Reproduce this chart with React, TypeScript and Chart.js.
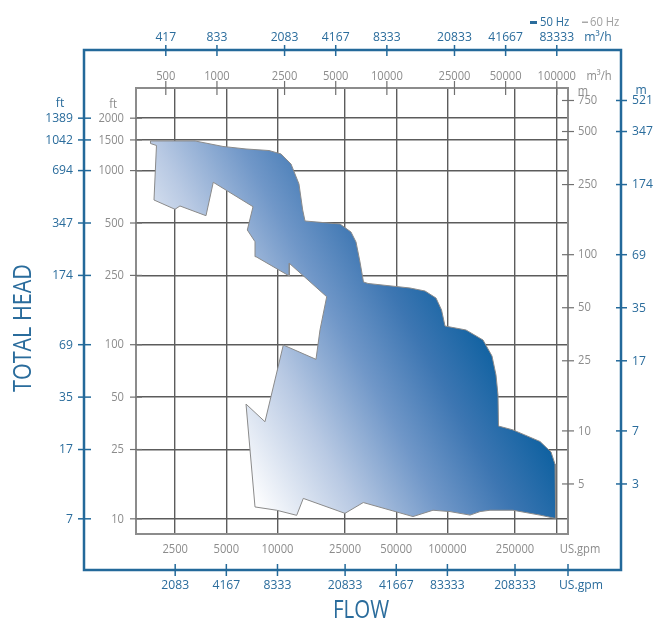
import React, { useEffect, useRef } from 'react';
import { Chart, registerables } from 'chart.js';

Chart.register(...registerables);

// Operating range envelope (outline), flow in US.gpm, head in ft
const ENVELOPE_FLOW_GPM = [
  1789, 3269, 4778, 6527, 8912, 10490, 12010, 13380, 14070, 14520,
  23330, 27080, 28980, 30590, 32070, 34090, 60240, 73840, 85690, 92360,
  96800, 128650, 162030, 183000, 193200, 198510, 199870, 243270, 350850, 407160,
  429820, 433910, 350850, 243270, 178110, 155580, 135900, 103590, 82270, 62740,
  31990, 24960, 14190, 12970, 9892, 7374, 6527, 8441, 10820, 16850,
  17790, 19480, 11735, 11735, 7474, 7374, 6643, 7177, 4189, 3795,
  2667, 2493, 1876, 1940, 1789, 1789,
];
const ENVELOPE_HEAD_FT = [
  1480, 1480, 1376, 1331, 1304, 1246, 1091, 837.5, 593.9, 513.5,
  493.5, 443.9, 388.9, 298.6, 229.2, 224.7, 211.7, 203.4, 185.4, 158.3,
  128.0, 121.5, 106.4, 86.1, 67.0, 51.4, 34.1, 32.4, 27.8, 24.2,
  20.6, 10.04, 10.5, 11.2, 11.2, 11.0, 10.5, 11.0, 11.2, 10.3,
  12.4, 10.75, 13.1, 10.47, 11.2, 11.7, 45.6, 36.1, 99.6, 82.4,
  121.5, 188.6, 293.5, 248.1, 320.2, 390.5, 455.8, 620.4, 856.7, 550.7,
  626.2, 599.4, 677.8, 1394, 1431, 1480,
];

// Axis ticks
const GPM_PER_M3H = 4.403;
const GRID_GPM = [2500, 5000, 10000, 25000, 50000, 100000, 250000];
const GRID_EXTRA_M3H = [100000];
const GRID_FT = [2000, 1500, 1000, 500, 250, 100, 50, 25, 10];

const TOP_M3H_60 = [500, 1000, 2500, 5000, 10000, 25000, 50000, 100000];
const TOP_M3H_50 = ['417', '833', '2083', '4167', '8333', '20833', '41667', '83333'];
const BOTTOM_GPM_60 = ['2500', '5000', '10000', '25000', '50000', '100000', '250000'];
const BOTTOM_GPM_50 = ['2083', '4167', '8333', '20833', '41667', '83333', '208333'];
const LEFT_FT_60 = ['2000', '1500', '1000', '500', '250', '100', '50', '25', '10'];
const LEFT_FT_50 = ['1389', '1042', '694', '347', '174', '69', '35', '17', '7'];
const RIGHT_M_60 = [750, 500, 250, 100, 50, 25, 10, 5];
const RIGHT_M_50 = ['521', '347', '174', '69', '35', '17', '7', '3'];

const X_MIN = 1470, X_MAX = 512600;
const Y_MIN = 8.18, Y_MAX = 2981;
const M_MIN = 2.6, M_MAX = 883;

const FONT = '"Open Sans", "DejaVu Sans", sans-serif';
const BLUE = '#2a6c9c';
const BLUE_LINE = '#23699a';
const GRAY_TXT = '#8c8c8c';
const GRAY_TICK = '#707070';
const GRID = '#5c5c5c';
const BOX = '#8c8c8c';
const G_SIZE = 13, G_SX = 0.86;
const B_SIZE = 13.5, B_SX = 0.9;

function txt(ctx: CanvasRenderingContext2D, s: string, x: number, y: number, size: number, color: string,
  align: CanvasTextAlign = 'center', rot = false, sx = 0.84) {
  ctx.save();
  ctx.translate(x, y);
  if (rot) ctx.rotate(-Math.PI / 2);
  ctx.scale(sx, 1);
  ctx.font = `${size}px ${FONT}`;
  ctx.fillStyle = color;
  ctx.textAlign = align;
  ctx.textBaseline = 'middle';
  ctx.fillText(s, 0, 0);
  ctx.restore();
}

function seg(ctx: CanvasRenderingContext2D, x1: number, y1: number, x2: number, y2: number) {
  ctx.beginPath();
  ctx.moveTo(x1, y1);
  ctx.lineTo(x2, y2);
  ctx.stroke();
}

const decor = {
  id: 'decor',
  afterDraw(chart: any) {
    const { ctx, chartArea: a, scales } = chart;
    const xs = scales.x, ys = scales.y, ms = scales.yM;
    ctx.save();

    // inner box
    ctx.strokeStyle = BOX;
    ctx.lineWidth = 2;
    ctx.strokeRect(a.left, a.top, a.right - a.left, a.bottom - a.top);

    // inner (60 Hz) ticks
    ctx.strokeStyle = GRAY_TICK;
    ctx.lineWidth = 1.2;
    TOP_M3H_60.forEach((v) => {
      const x = xs.getPixelForValue(v * GPM_PER_M3H);
      seg(ctx, x, a.top - 7, x, a.top + 7);
      txt(ctx, String(v), x, a.top - 12, G_SIZE, GRAY_TXT, 'center', false, G_SX);
    });
    txt(ctx, 'm³/h', a.right + 31, a.top - 12, G_SIZE, GRAY_TXT, 'center', false, G_SX);
    GRID_FT.forEach((v, i) => {
      const y = ys.getPixelForValue(v);
      seg(ctx, a.left - 6, y, a.left + 6, y);
      txt(ctx, LEFT_FT_60[i], a.left - 12, y, G_SIZE, GRAY_TXT, 'right', false, G_SX);
    });
    txt(ctx, 'ft', a.left - 23, a.top + 16, G_SIZE, GRAY_TXT, 'center', false, G_SX);
    RIGHT_M_60.forEach((v) => {
      const y = ms.getPixelForValue(v);
      seg(ctx, a.right - 6, y, a.right + 6, y);
      txt(ctx, String(v), a.right + 10, y, G_SIZE, GRAY_TXT, 'left', false, G_SX);
    });
    txt(ctx, 'm', a.right + 15, a.top + 3, G_SIZE, GRAY_TXT, 'center', false, G_SX);
    GRID_GPM.forEach((v, i) => {
      const x = xs.getPixelForValue(v);
      txt(ctx, BOTTOM_GPM_60[i], x, a.bottom + 15, G_SIZE, GRAY_TXT, 'center', false, G_SX);
    });
    txt(ctx, 'US.gpm', a.right + 12, a.bottom + 15, G_SIZE, GRAY_TXT, 'center', false, G_SX);

    // outer (50 Hz) frame
    const L = a.left - 52, T = a.top - 38, R = a.right + 53, B = a.bottom + 36;
    ctx.strokeStyle = BLUE_LINE;
    ctx.lineWidth = 2.5;
    ctx.strokeRect(L, T, R - L, B - T);
    ctx.lineWidth = 1.5;
    TOP_M3H_60.forEach((v, i) => {
      const x = xs.getPixelForValue(v * GPM_PER_M3H);
      seg(ctx, x, T - 5, x, T + 6);
      txt(ctx, TOP_M3H_50[i], x, T - 13, B_SIZE, BLUE, 'center', false, B_SX);
    });
    txt(ctx, 'm³/h', a.right + 30, T - 13, B_SIZE, BLUE, 'center', false, B_SX);
    GRID_FT.forEach((v, i) => {
      const y = ys.getPixelForValue(v);
      seg(ctx, L - 6, y, L + 7, y);
      txt(ctx, LEFT_FT_50[i], L - 11, y, B_SIZE, BLUE, 'right', false, B_SX);
    });
    txt(ctx, 'ft', L - 24, a.top + 15, B_SIZE, BLUE, 'center', false, B_SX);
    RIGHT_M_60.forEach((v, i) => {
      const y = ms.getPixelForValue(v);
      seg(ctx, R - 5, y, R + 6, y);
      txt(ctx, RIGHT_M_50[i], R + 11, y, B_SIZE, BLUE, 'left', false, B_SX);
    });
    txt(ctx, 'm', R + 20, a.top + 2, B_SIZE, BLUE, 'center', false, B_SX);
    GRID_GPM.forEach((v, i) => {
      const x = xs.getPixelForValue(v);
      seg(ctx, x, B - 6, x, B + 6);
      txt(ctx, BOTTOM_GPM_50[i], x, B + 15, B_SIZE, BLUE, 'center', false, B_SX);
    });
    seg(ctx, a.right, B - 6, a.right, B + 6);
    txt(ctx, 'US.gpm', a.right + 13, B + 15, B_SIZE, BLUE, 'center', false, B_SX);

    // titles
    txt(ctx, 'TOTAL HEAD', 24, (a.top + a.bottom) / 2 + 17, 25, BLUE, 'center', true, 0.86);
    txt(ctx, 'FLOW', (a.left + a.right) / 2 + 9, B + 41, 25, BLUE, 'center', false, 0.82);

    // legend
    ctx.fillStyle = BLUE;
    ctx.fillRect(R - 91, T - 29, 7, 3);
    txt(ctx, '50 Hz', R - 81, T - 27.5, 12.5, BLUE, 'left', false, 0.9);
    ctx.fillStyle = '#a8a8a8';
    ctx.fillRect(R - 39, T - 28.5, 6, 1.5);
    txt(ctx, '60 Hz', R - 31, T - 27.5, 12.5, '#a0a0a0', 'left', false, 0.9);

    ctx.restore();
  },
};

export default function App() {
  const ref = useRef<HTMLCanvasElement | null>(null);

  useEffect(() => {
    if (!ref.current) return;
    const points = ENVELOPE_FLOW_GPM.map((x, i) => ({ x, y: ENVELOPE_HEAD_FT[i] }));
    const chart = new Chart(ref.current, {
      type: 'line',
      data: {
        datasets: [
          {
            data: points,
            fill: 'shape',
            borderColor: '#8a8a8a',
            borderWidth: 1,
            pointRadius: 0,
            tension: 0,
            backgroundColor: (c: any) => {
              const ch = c.chart;
              const a = ch.chartArea;
              if (!a) return '#5b8cc4';
              const w = a.right - a.left, h = a.bottom - a.top;
              const g = ch.ctx.createLinearGradient(a.left + 0.275 * w, a.top + 0.935 * h, a.left + 0.868 * w, a.top + 0.619 * h);
              g.addColorStop(0, '#ffffff');
              g.addColorStop(0.3, '#b8c9e3');
              g.addColorStop(0.55, '#7097c8');
              g.addColorStop(0.76, '#3d76b2');
              g.addColorStop(1, '#0a5f9f');
              return g;
            },
          } as any,
        ],
      },
      options: {
        responsive: false,
        animation: false,
        devicePixelRatio: 1,
        layout: { padding: { left: 136, top: 88, right: 91, bottom: 100 } },
        plugins: { legend: { display: false }, tooltip: { enabled: false } },
        scales: {
          x: {
            type: 'logarithmic',
            position: 'bottom',
            min: X_MIN,
            max: X_MAX,
            afterBuildTicks: (s: any) => {
              s.ticks = [...GRID_GPM, ...GRID_EXTRA_M3H.map((v) => v * GPM_PER_M3H)].map((value) => ({ value }));
            },
            ticks: { display: false },
            grid: { color: GRID, lineWidth: 1.4, drawTicks: false },
            border: { display: false },
          },
          y: {
            type: 'logarithmic',
            position: 'left',
            min: Y_MIN,
            max: Y_MAX,
            afterBuildTicks: (s: any) => {
              s.ticks = GRID_FT.map((value) => ({ value }));
            },
            ticks: { display: false },
            grid: { color: GRID, lineWidth: 1.4, drawTicks: false },
            border: { display: false },
          },
          yM: {
            type: 'logarithmic',
            position: 'right',
            min: M_MIN,
            max: M_MAX,
            display: false,
          },
        } as any,
      },
      plugins: [decor],
    });
    return () => chart.destroy();
  }, []);

  return (
    <div style={{ position: 'fixed', left: 0, top: 0, width: 659, height: 634, background: '#fff' }}>
      <canvas ref={ref} width={659} height={634} style={{ display: 'block' }} />
    </div>
  );
}
